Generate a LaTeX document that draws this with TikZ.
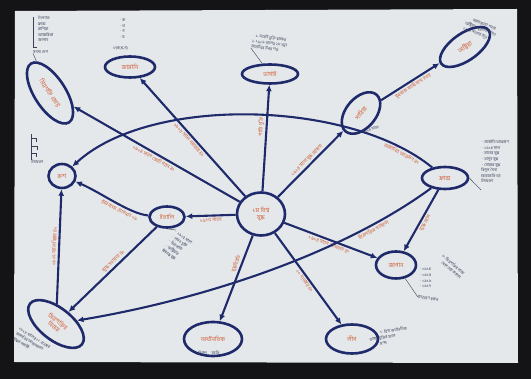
\documentclass[tikz,border=0pt]{standalone}
\usepackage{fontspec}
\newfontfamily\bnfont[Script=Bengali]{Hind Siliguri}
\usetikzlibrary{shapes.geometric,arrows.meta}
\definecolor{ink}{HTML}{1F2A6B}
\definecolor{redink}{HTML}{D0603A}
\definecolor{pencil}{HTML}{3A4058}
\definecolor{paper}{HTML}{E4E8EB}
\definecolor{frame}{HTML}{141416}

\begin{document}
\begin{tikzpicture}[x=1pt,y=-1pt,
    n/.style={ellipse,draw=ink,line width=2.6pt,inner sep=0pt,
      text=redink,font=\bnfont\fontsize{6}{6.5}\selectfont,align=center},
    lbl/.style={text=redink,font=\bnfont\fontsize{5}{6}\selectfont,sloped,inner sep=1.5pt},
    note/.style={text=pencil,font=\bnfont\fontsize{4}{5.6}\selectfont,inner sep=0pt,
      align=left,anchor=north west},
    link/.style={draw=ink,line width=2.1pt,-{Latex[length=6.5pt,width=6pt]}},
    tie/.style={draw=pencil,line width=0.4pt}]
  \useasboundingbox (0,0) rectangle (531,379);
  \fill[frame] (0,0) rectangle (531,379);
  \fill[paper] (15,11) -- (517,9) -- (518,363) -- (14,362) -- cycle;

  % concepts
  \node[n,minimum width=48,minimum height=43] (ww) at (261,214) {১ম বিশ্ব\\যুদ্ধ};
  \node[n,rotate=-57,minimum width=70,minimum height=31] (alliance) at (50,93) {মিত্রশক্তি জোট};
  \node[n,minimum width=50,minimum height=21] (germany) at (130,67) {জার্মানি};
  \node[n,minimum width=56,minimum height=19] (versailles) at (270,74) {ভার্সাই};
  \node[n,rotate=50,minimum width=48,minimum height=30] (serbia) at (361,113) {সার্বিয়া};
  \node[n,rotate=35,minimum width=58,minimum height=27] (austria) at (465,47) {অস্ট্রিয়া};
  \node[n,minimum width=46,minimum height=22] (france) at (445,178) {ফ্রান্স};
  \node[n,minimum width=40,minimum height=27] (japan) at (396,265) {জাপান};
  \node[n,minimum width=52,minimum height=29] (league) at (352,339) {লীগ};
  \node[n,minimum width=58,minimum height=34] (economy) at (213,339) {অর্থনৈতিক};
  \node[n,rotate=-38,minimum width=66,minimum height=32] (victory) at (56,324) {মিত্রশক্তির\\বিজয়};
  \node[n,minimum width=27,minimum height=24] (russia) at (62,176) {রুশ};
  \node[n,minimum width=35,minimum height=21] (italy) at (167,217) {ইতালি};

  % links
  \path (ww) edge[link] node[lbl,below]{১৯১৪ সালে জোট গঠন ৪১} (alliance)
             edge[link] node[lbl,below]{১৯১৮ সালে পরাজয় ৪১} (germany)
             edge[link] node[lbl,above,pos=0.6]{শান্তি চুক্তি} (versailles)
             edge[link] node[lbl,above]{১৯১৪ সালে যুদ্ধ ঘোষণা} (serbia)
             edge[link] node[lbl,below]{১৯১৪ সালে যোগদান ৪১} (japan)
             edge[link] node[lbl,below]{১১ নভেম্বর ৪১} (league)
             edge[link] node[lbl,above,pos=0.35]{যুদ্ধবিরতি} (economy)
             edge[link] node[lbl,below]{১৯১৫ সালে} (italy)
        (serbia) edge[link] node[lbl,below]{যুবরাজ ফার্দিনান্দ হত্যা} (austria)
        (france) edge[link] node[lbl,below]{যুদ্ধে যোগ} (japan)
        (italy) edge[link] node[lbl,above,pos=0.45]{যুদ্ধে সহায়তা ৪১} (victory)
        (victory) edge[link] node[lbl,above]{১৯১৭ সালে বিপ্লব ৪১} (russia);
  \draw[link] (france) .. controls (350,100) and (150,95) .. (russia)
    node[lbl,below,pos=0.1]{জার্মানির আক্রমণ ৪১};
  \draw[link] (france) .. controls (340,255) and (200,300) .. (victory)
    node[lbl,below,pos=0.2]{মিত্রশক্তির সহায়তা};
  \draw[link] (italy) .. controls (130,214) and (100,192) .. (russia)
    node[lbl,below,pos=0.4]{মিত্রপক্ষে যোগদান ১৯};

  % notes
  \draw[tie] (33,17) -- (33,47) -- (37,47);
  \node[note] (members) at (38,16) {ইংল্যান্ড\\ফ্রান্স\\রাশিয়া\\আমেরিকা\\জাপান};
  \node[note] (acap) at (33,50) {সদস্য দেশ};
  \draw[tie] (acap.south west) -- (alliance);

  \node[note] (glist) at (119,19) {$\cdot$ ক\\$\cdot$ খ\\$\cdot$ গ\\$\cdot$ ঘ};
  \node[note] (gcap) at (113,46) {৩(ক,খ,গ)};

  \node[note,rotate=-8] (vnote) at (253,33) {\hspace{3pt}১. ভার্সাই চুক্তি স্বাক্ষর\\২. ১৯১৯ সালের ২৮ জুন\\জার্মানির উপর শর্ত};
  \draw[tie] (vnote.south west) -- (versailles);

  \node[note,rotate=-22] (anote) at (468,16) {\hspace{6pt}সারাজেভো শহরে\\অস্ট্রিয়ার যুবরাজ নিহত\\১৯১৪ সালের জুন};

  \node[note,rotate=20] (snote) at (362,131) {১৯১৪ সালে};

  \node[note] (fnote) at (481,140) {$\cdot$ জার্মানি আক্রমণ\\$\cdot$ ১৯১৪ সাল\\$\cdot$ মার্নের যুদ্ধ\\
    $\cdot$ ভার্দুন যুদ্ধ\\$\cdot$ সোমের যুদ্ধ\\বিপুল সৈন্য\\ক্ষয়ক্ষতি হয়\\উদাহরণ};
  \draw[tie] (france.east) -- (481,190);

  \node[note,rotate=-40] (jnote) at (444,254) {৬. মিত্রশক্তির পক্ষে\\\hspace{4pt}যোগ দেয় জাপান};
  \node[note] (jlist) at (419,268) {$\cdot$ ১৯১৪\\$\cdot$ ১৯১৫\\$\cdot$ ১৯১৬\\$\cdot$ ১৯১৭};
  \node[note,rotate=-8] (jcap) at (418,295) {উদাহরণ স্বরূপ};
  \draw[tie] (japan) -- (jcap.west);

  \node[note,rotate=9,align=center] (lnote) at (356,334) {\hspace{24pt}১. বিশ্ব অর্থনৈতিক\\ভার্সাই চুক্তির ফলে\\মন্দা};

  \node[note,anchor=center] (enote) at (209,353) {বিপুল \quad ক্ষতি};

  \node[note,rotate=-32] (wnote) at (20,327) {১৯১৮ সালের ১১ নভেম্বর\\জার্মানির আত্মসমর্পণ\\যুদ্ধের সমাপ্তি};

  \draw[tie] (31,134) -- (31,160) (31,138) -- (36,138) -- (36,142)
    (31,146) -- (37,146) -- (37,150) (31,153) -- (36,153) -- (36,157);
  \node[note] (rcap) at (31,160) {উদাহরণ};

  \node[note,rotate=-35] (inote) at (176,230) {$\cdot$ ১৯১৫ সালে\\$\cdot$ লন্ডন চুক্তি\\$\cdot$ মিত্রপক্ষে\\$\cdot$ অস্ট্রিয়ার\\বিরুদ্ধে যুদ্ধ};
  \draw[tie] (italy.south) -- (inote.north west);
\end{tikzpicture}
\end{document}
